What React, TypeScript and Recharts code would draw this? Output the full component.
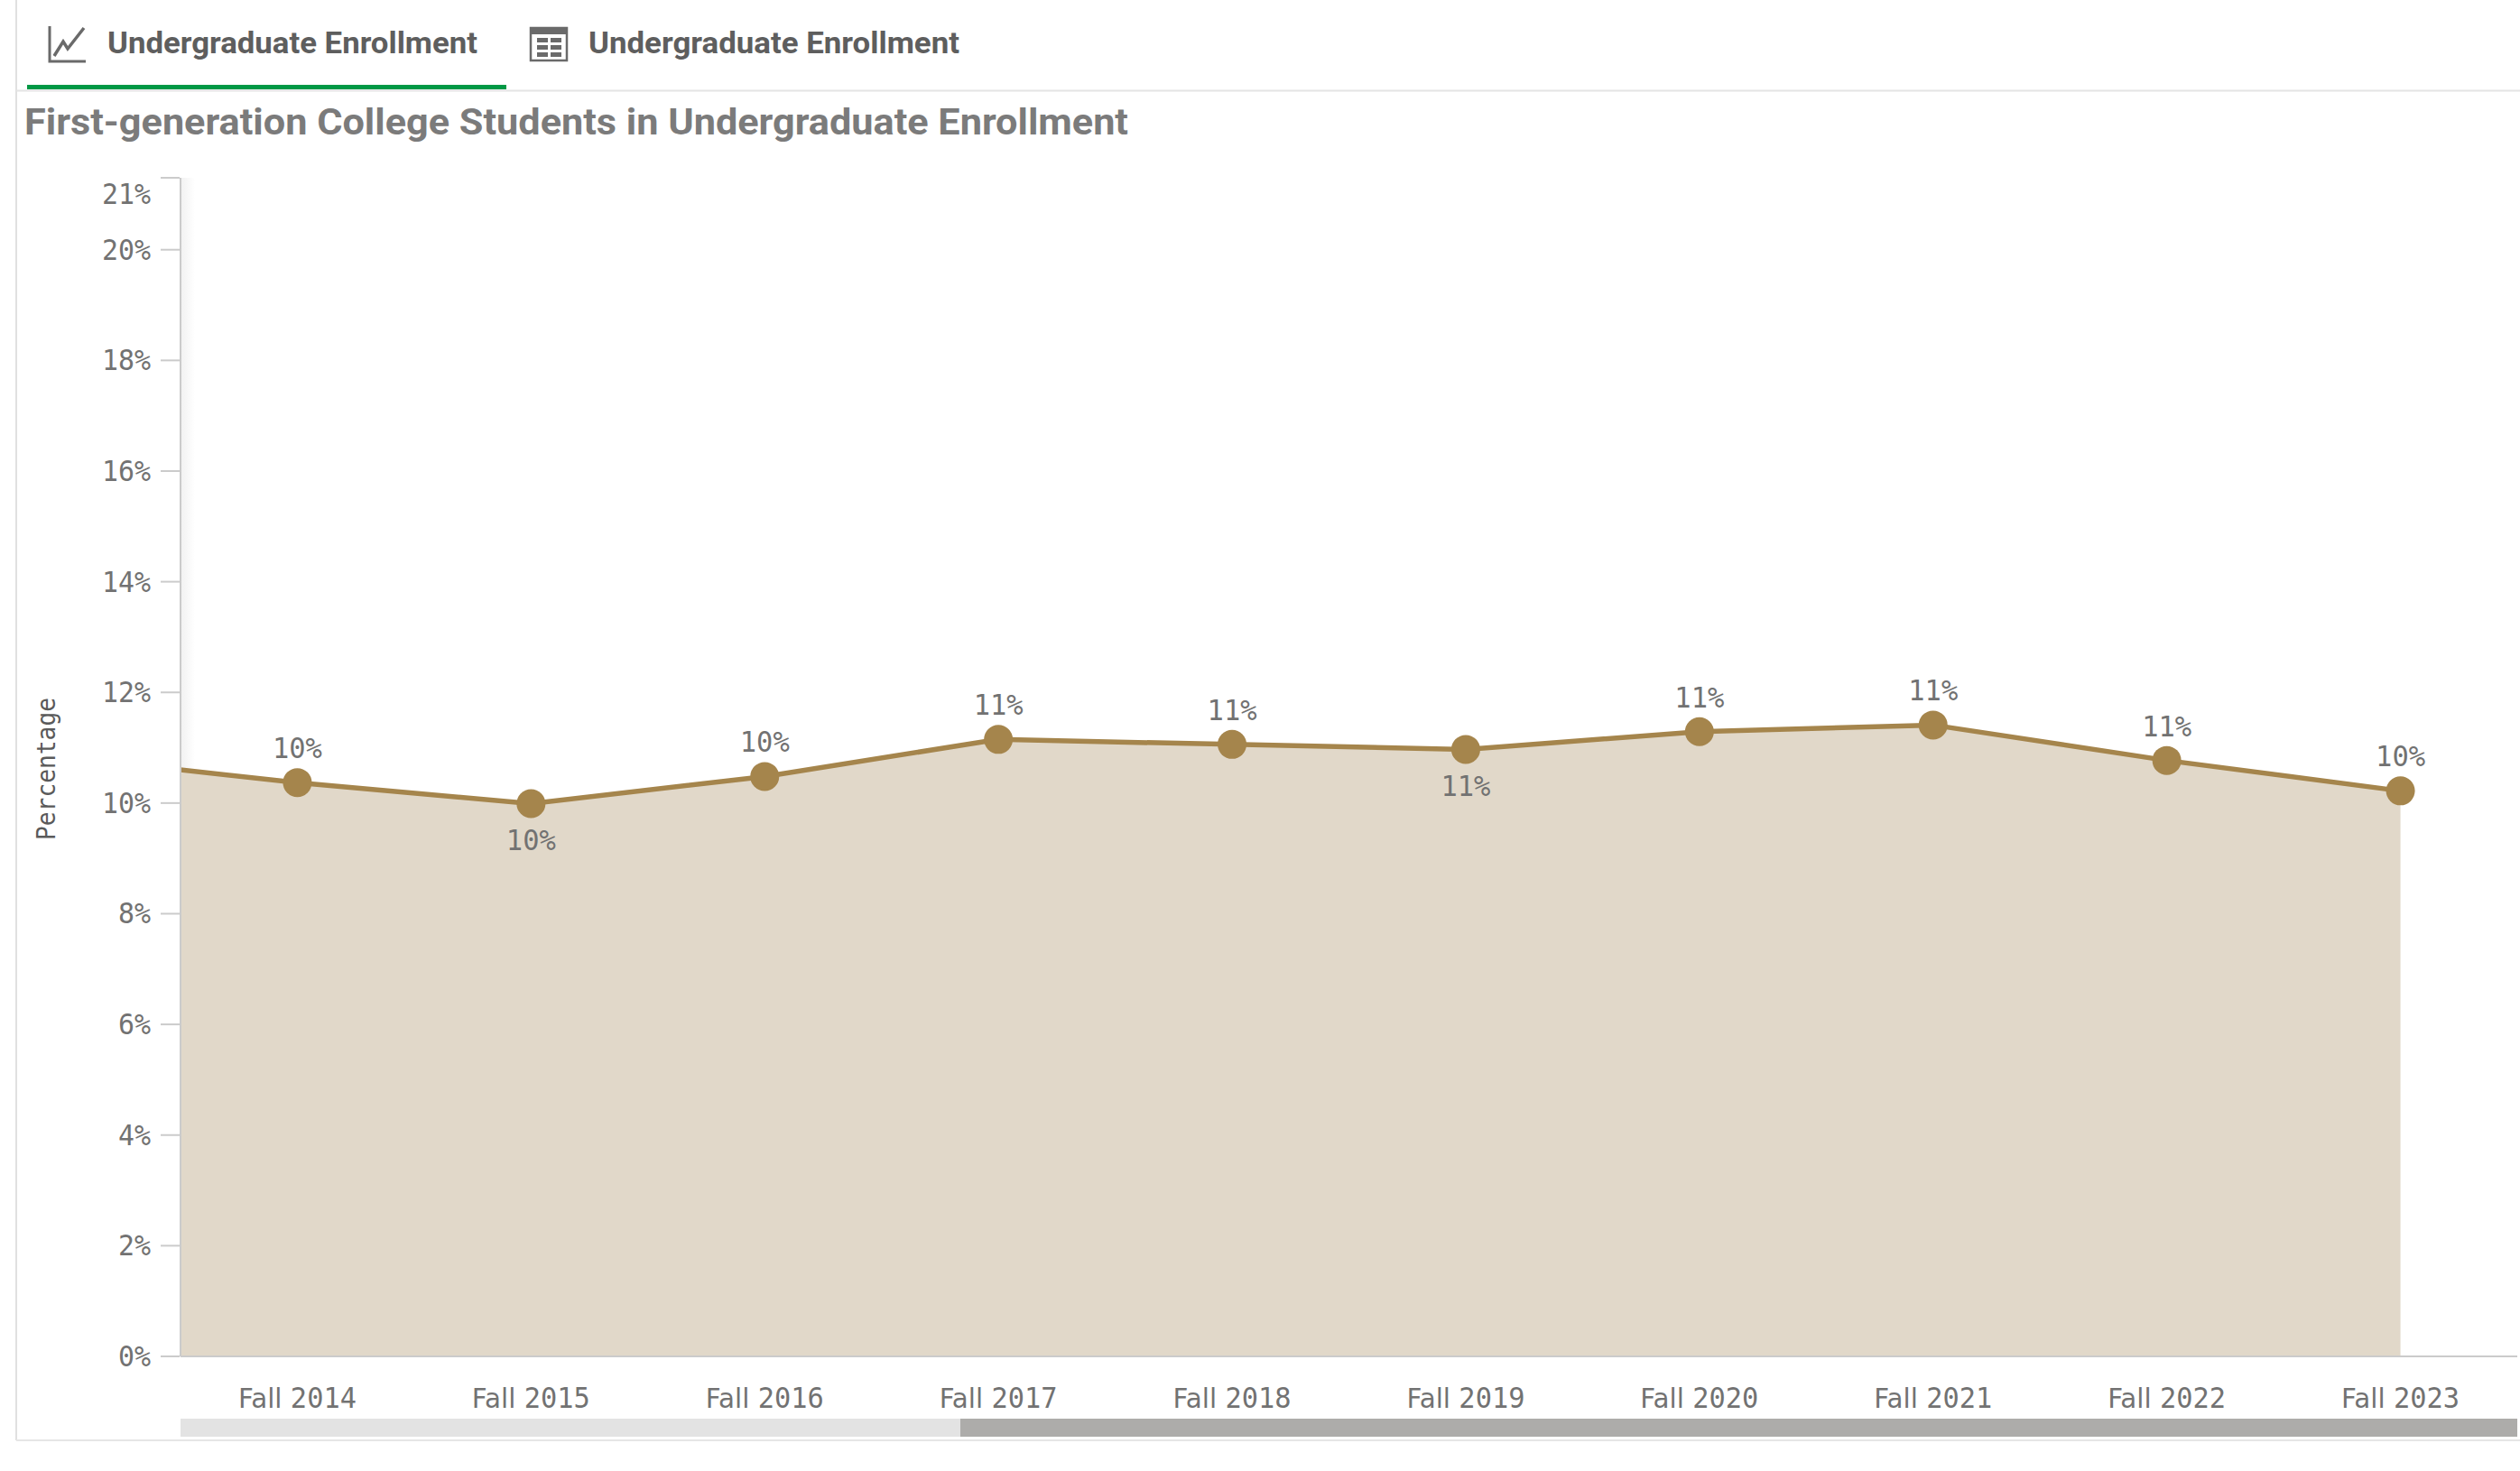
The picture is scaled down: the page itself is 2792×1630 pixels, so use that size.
import React from "react";
import { ComposedChart, Area, XAxis, YAxis } from "recharts";

const W = 2792;
const H = 1630;

// The chart is scrolled: Fall 2013 sits off-screen, only its line segment enters at the left edge.
const categories = ["Fall 2013", "Fall 2014", "Fall 2015", "Fall 2016", "Fall 2017", "Fall 2018", "Fall 2019", "Fall 2020", "Fall 2021", "Fall 2022", "Fall 2023"];
const percentages = [10.83, 10.37, 9.99, 10.48, 11.15, 11.06, 10.97, 11.29, 11.41, 10.77, 10.22];
const valueLabels = ["", "10%", "10%", "10%", "11%", "11%", "11%", "11%", "11%", "11%", "10%"];
const labelsBelow = ["Fall 2015", "Fall 2019"];
const yTicks = [0, 2, 4, 6, 8, 10, 12, 14, 16, 18, 20, 21, 21.3];
const unlabelledTick = 21.3;
const untickedValue = 21;
const tabTitle = "Undergraduate Enrollment";
const chartTitle = "First-generation College Students in Undergraduate Enrollment";
const yTitle = "Percentage";

const data = categories.map((name, i) => ({ pos: i - 1, name, value: percentages[i], label: valueLabels[i] }));
const xTicks = data.filter((d) => d.pos >= 0).map((d) => d.pos);

const MONO = "'DejaVu Sans Mono', monospace";
const SANS = "'DejaVu Sans', sans-serif";
const TEXT = "#727272";
const AXIS = "#cbcbcb";
const LINE = "#a5854c";
const FILL = "#e1d8c9";

const XTick = (props: any) => {
  const { x, payload } = props;
  const name = categories[payload.value + 1];
  const [word, year] = name.split(" ");
  return (
    <text x={x} y={1560} textAnchor="middle" fontSize={32} fill={TEXT} fontFamily={MONO} textLength={131} lengthAdjust="spacingAndGlyphs">
      <tspan fontFamily={SANS} fontSize={31}>{word} </tspan>
      <tspan>{year}</tspan>
    </text>
  );
};

const YTick = (props: any) => {
  const { y, payload } = props;
  const v = payload.value;
  const label = `${v}%`;
  return (
    <g>
      {v !== untickedValue && <line x1={178} x2={199} y1={y} y2={y} stroke={AXIS} strokeWidth={2} />}
      {v !== unlabelledTick && (
        <text x={167} y={y + 11} textAnchor="end" fontSize={32} fill={TEXT} fontFamily={MONO} textLength={label.length * 18} lengthAdjust="spacingAndGlyphs">{label}</text>
      )}
    </g>
  );
};

const Dot = (props: any) => {
  const { cx, cy, payload } = props;
  if (payload.pos < 0) return <g />;
  return <circle cx={cx} cy={cy} r={16} fill={LINE} />;
};

const ValueLabel = (props: any) => {
  const { x, y, index } = props;
  const d = data[index];
  if (!d || d.pos < 0) return <g />;
  const below = labelsBelow.includes(d.name);
  return (
    <text x={x} y={below ? y + 52 : y - 27} textAnchor="middle" fontSize={32} fill={TEXT} fontFamily={MONO} textLength={55} lengthAdjust="spacingAndGlyphs">
      {d.label}
    </text>
  );
};

const Header = () => (
  <svg width={W} height={H} style={{ position: "absolute", left: 0, top: 0 }}>
    <defs>
      <linearGradient id="axisShade" x1="0" x2="1" y1="0" y2="0">
        <stop offset="0" stopColor="#f1f1f1" />
        <stop offset="1" stopColor="#ffffff" />
      </linearGradient>
    </defs>
    <rect x={200} y={197} width={16} height={1306} fill="url(#axisShade)" />
    <line x1={18} x2={18} y1={0} y2={1596} stroke="#e0e0e0" strokeWidth={2} />
    <line x1={18} x2={W} y1={1596} y2={1596} stroke="#e6e6e6" strokeWidth={2} />
    <line x1={18} x2={W} y1={100.5} y2={100.5} stroke="#e4e4e4" strokeWidth={2} />
    <rect x={30} y={94} width={531} height={5} fill="#009845" />

    <g fill="none" stroke="#6a6a6a" strokeWidth={3}>
      <path d="M55 29 V68 H95" />
      <path d="M60 62 L70 46 L75 54 L93 31" strokeWidth={3.5} />
    </g>
    <text x={119} y={59} fontSize={33} fontWeight={700} fill="#5e5e5e" fontFamily="Roboto" textLength={410} lengthAdjust="spacingAndGlyphs">{tabTitle}</text>

    <g>
      <rect x={588} y={31} width={40} height={36} fill="none" stroke="#6a6a6a" strokeWidth={2.5} />
      <rect x={588} y={31} width={40} height={7} fill="#6a6a6a" />
      {[0, 1, 2].map((r) =>
        [0, 1].map((c) => (
          <rect key={`${r}-${c}`} x={595 + c * 15} y={42 + r * 8} width={12} height={5} fill="#6a6a6a" />
        ))
      )}
    </g>
    <text x={652} y={59} fontSize={33} fontWeight={700} fill="#5e5e5e" fontFamily="Roboto" textLength={411} lengthAdjust="spacingAndGlyphs">{tabTitle}</text>

    <text x={27} y={149} fontSize={41} fontWeight={700} fill="#7b7b7b" fontFamily="Roboto" textLength={1223} lengthAdjust="spacingAndGlyphs">{chartTitle}</text>

    <text transform="translate(61 852) rotate(-90)" textAnchor="middle" fontSize={28} fill="#5a5a5a" fontFamily={MONO} textLength={158} lengthAdjust="spacingAndGlyphs">{yTitle}</text>

    <rect x={200} y={1572} width={864} height={20} fill="#e3e3e3" />
    <rect x={1064} y={1572} width={1725} height={20} fill="#adacaa" />
  </svg>
);

export default function App() {
  return (
    <div style={{ position: "absolute", left: 0, top: 0, width: W, height: H, background: "#fff", overflow: "hidden" }}>
      <Header />
      <div style={{ position: "absolute", left: 0, top: 0 }}>
        <ComposedChart width={W} height={H} data={data} margin={{ top: 197, right: 3, bottom: 0, left: 0 }}>
          <XAxis
            dataKey="pos"
            type="number"
            domain={[-0.5, 9.5]}
            allowDataOverflow
            ticks={xTicks}
            interval={0}
            height={127}
            tickLine={false}
            axisLine={{ stroke: AXIS, strokeWidth: 2 }}
            tick={<XTick />}
          />
          <YAxis
            type="number"
            width={200}
            domain={[0, 21.3]}
            allowDataOverflow
            ticks={yTicks}
            interval={0}
            tickLine={false}
            axisLine={{ stroke: AXIS, strokeWidth: 2 }}
            tick={<YTick />}
          />
          <Area
            dataKey="value"
            type="linear"
            stroke={LINE}
            strokeWidth={5.5}
            fill={FILL}
            fillOpacity={1}
            dot={<Dot />}
            activeDot={false}
            label={<ValueLabel />}
            isAnimationActive={false}
          />
        </ComposedChart>
      </div>
    </div>
  );
}
